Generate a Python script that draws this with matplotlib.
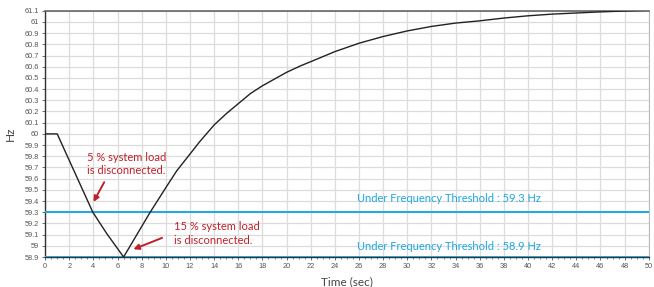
import matplotlib.pyplot as plt
from matplotlib.ticker import MultipleLocator

# frecuencia del sistema tras el deslastre de carga
tiempo = [0, 1, 3.95, 5.1, 6.5, 7.6, 8.7, 10, 10.9, 12, 12.8, 14, 15, 16, 17,
          18, 19, 20, 21.2, 22, 24, 26, 28, 30, 32, 34, 36, 38, 40,
          42, 44, 46, 48, 50]
frecuencia = [60, 60, 59.3, 59.11, 58.9, 59.1, 59.3, 59.52, 59.67, 59.82,
              59.93, 60.08, 60.18, 60.27, 60.36, 60.43, 60.49, 60.55, 60.61,
              60.645, 60.735, 60.81, 60.87, 60.92, 60.96, 60.99, 61.01, 61.035,
              61.055, 61.07, 61.08, 61.09, 61.098, 61.105]

umbrales = [59.3, 58.9]
etiquetas_umbral = ["Under Frequency Threshold : 59.3 Hz",
                    "Under Frequency Threshold : 58.9 Hz"]

rojo = "#c0202a"
azul = "#1ea7e1"

plt.rcParams['font.family'] = ['Lato', 'DejaVu Sans']

fig = plt.figure(figsize=(6.54, 2.87), dpi=100)
ax = fig.add_axes([0.069, 0.1045, 0.923, 0.858])

ax.plot(tiempo, frecuencia, color="#222222", lw=1.0, zorder=4)

for u, txt, ty in zip(umbrales, etiquetas_umbral, [59.42, 58.99]):
    ax.axhline(u, color=azul, lw=1.4, zorder=3)
    ax.text(25.8, ty, txt, color=azul, fontsize=8, va="center", ha="left")

ax.text(3.45, 59.73, "5 % system load\nis disconnected.", color=rojo,
        fontsize=8, va="center", ha="left", linespacing=1.3)
ax.annotate("", xy=(3.9, 59.37), xytext=(5.0, 59.59),
            arrowprops=dict(arrowstyle="-|>", color=rojo, lw=1.4,
                            mutation_scale=8))
ax.text(10.7, 59.11, "15 % system load\nis disconnected.", color=rojo,
        fontsize=8, va="center", ha="left", linespacing=1.3)
ax.annotate("", xy=(7.1, 58.96), xytext=(9.9, 59.08),
            arrowprops=dict(arrowstyle="-|>", color=rojo, lw=1.4,
                            mutation_scale=8))

ax.set_xlim(0, 50)
ax.set_ylim(58.9, 61.1)
ax.xaxis.set_major_locator(MultipleLocator(2))
ax.xaxis.set_minor_locator(MultipleLocator(0.5))
ax.yaxis.set_major_locator(MultipleLocator(0.1))
ax.yaxis.set_major_formatter(plt.FuncFormatter(lambda v, p: "%g" % round(v, 1)))
ax.grid(True, color="#dcdcdc", lw=0.9, zorder=0)
ax.set_axisbelow(True)

ax.tick_params(axis="both", labelsize=5.3, colors="#555555", length=2.5,
               width=0.6, pad=2)
ax.tick_params(axis="x", which="minor", length=1.5, width=0.5,
               colors="#555555")
for lab in ax.get_xticklabels() + ax.get_yticklabels():
    lab.set_family("Liberation Sans")

for s in ["left", "bottom"]:
    ax.spines[s].set_color("#333333")
    ax.spines[s].set_linewidth(1.0)
ax.spines["top"].set_color("#666666")
ax.spines["top"].set_linewidth(1.2)
ax.spines["right"].set_color("#bbbbbb")

ax.set_xlabel("Time (sec)", fontsize=8.5, color="#444444", labelpad=4)
ax.set_ylabel("Hz", fontsize=8.5, color="#444444", labelpad=6)

fig.savefig("out.png", dpi=100)
